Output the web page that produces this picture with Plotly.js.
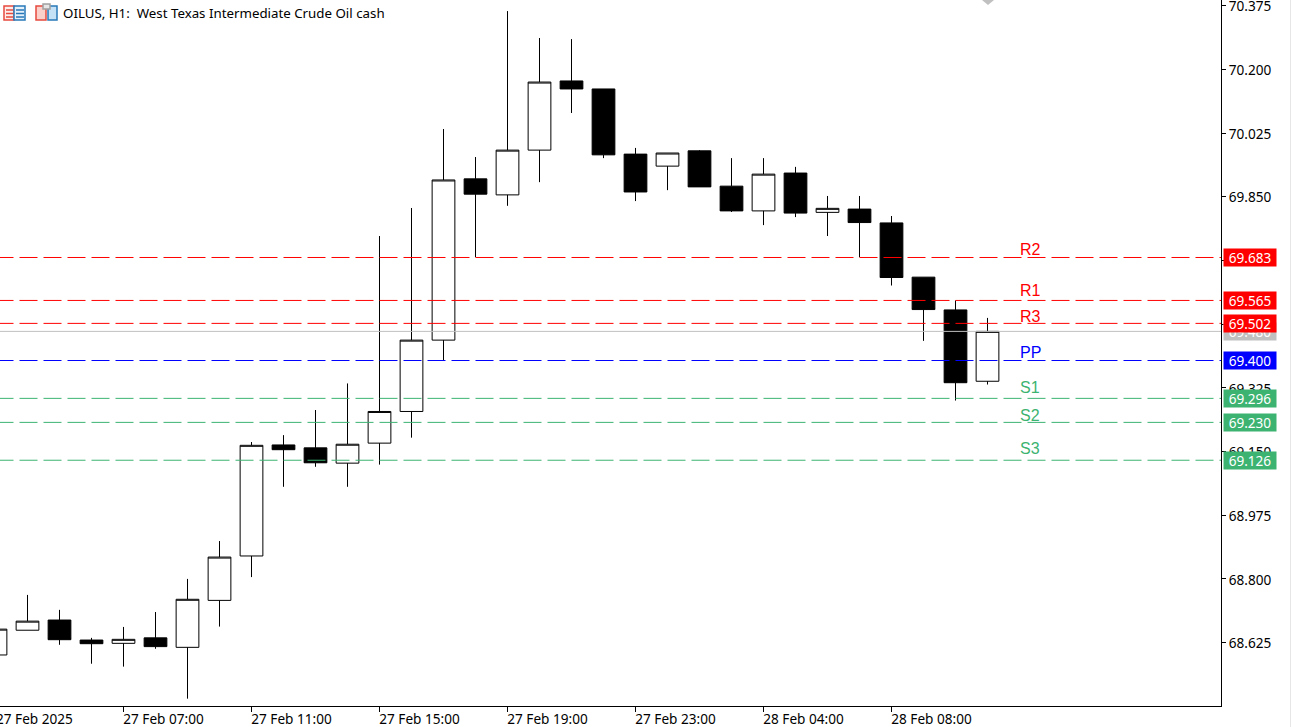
<!DOCTYPE html>
<html>
<head>
<meta charset="utf-8">
<script src="https://cdn.plot.ly/plotly-3.0.1.min.js"></script>
<style>html,body{margin:0;padding:0;background:#fff;overflow:hidden}#chart{width:1291px;height:727px}</style>
</head>
<body>
<div id="chart"></div>
<script>
const barTimes = ["27 Feb 03:00","27 Feb 04:00","27 Feb 05:00","27 Feb 06:00","27 Feb 07:00","27 Feb 08:00","27 Feb 09:00","27 Feb 10:00","27 Feb 11:00","27 Feb 12:00","27 Feb 13:00","27 Feb 14:00","27 Feb 15:00","27 Feb 16:00","27 Feb 17:00","27 Feb 18:00","27 Feb 19:00","27 Feb 20:00","27 Feb 21:00","27 Feb 22:00","27 Feb 23:00","28 Feb 01:00","28 Feb 02:00","28 Feb 03:00","28 Feb 04:00","28 Feb 05:00","28 Feb 06:00","28 Feb 07:00","28 Feb 08:00","28 Feb 09:00","28 Feb 10:00","28 Feb 11:00"];
const opens  = [68.591,68.659,68.687,68.632,68.623,68.638,68.612,68.741,68.863,69.168,69.160,69.118,69.173,69.260,69.456,69.899,69.855,69.978,70.168,70.146,69.967,69.934,69.976,69.879,69.811,69.915,69.807,69.816,69.778,69.629,69.539,69.343];
const highs  = [68.662,68.756,68.715,68.638,68.668,68.709,68.800,68.904,69.176,69.195,69.264,69.337,69.742,69.819,70.036,69.959,70.360,70.286,70.283,70.146,69.984,69.970,69.978,69.956,69.956,69.932,69.852,69.852,69.797,69.629,69.565,69.517];
const lows   = [68.591,68.659,68.619,68.567,68.559,68.608,68.471,68.669,68.805,69.053,69.108,69.053,69.114,69.188,69.401,69.684,69.825,69.890,70.080,69.956,69.838,69.868,69.877,69.808,69.772,69.794,69.742,69.684,69.606,69.454,69.290,69.334];
const closes = [68.662,68.684,68.633,68.622,68.634,68.614,68.744,68.860,69.167,69.155,69.119,69.170,69.260,69.456,69.896,69.857,69.978,70.165,70.146,69.965,69.863,69.970,69.877,69.811,69.912,69.805,69.818,69.779,69.628,69.540,69.339,69.480];

const levelNames  = ["R2","R1","R3","PP","S1","S2","S3"];
const levelValues = [69.683,69.565,69.502,69.400,69.296,69.230,69.126];
const levelTextAt = [69.705,69.591,69.521,69.422,69.327,69.249,69.157];
const levelColors = ["#ff0000","#ff0000","#ff0000","#0000ff","#3cb371","#3cb371","#3cb371"];
const bidValue = 69.480;

const yTicks = [70.375,70.200,70.025,69.850,69.675,69.500,69.325,69.150,68.975,68.800,68.625];
const xTickBars = [4,8,12,16,20,24,28];
const xTickLabels = ["27 Feb 07:00","27 Feb 11:00","27 Feb 15:00","27 Feb 19:00","27 Feb 23:00","28 Feb 04:00","28 Feb 08:00"];
const firstDateLabel = "27 Feb 2025";
const chartTitle = "OILUS, H1:\u00a0 West Texas Intermediate Crude Oil cash";

const uiFont = "Noto Sans, sans-serif";
const W = 1291, H = 727, PW = 1221, PH = 706;
const px = v => v / PW, py = v => 1 - v / PH;
const box = (x0,y0,x1,y1,line,fill) => ({type:'rect',xref:'paper',yref:'paper',x0:px(x0),x1:px(x1),y0:py(y0),y1:py(y1),layer:'above',line:{color:line,width:1.5},fillcolor:fill||'rgba(0,0,0,0)'});
const rule = (x0,x1,y,c) => ({type:'line',xref:'paper',yref:'paper',x0:px(x0),x1:px(x1),y0:py(y),y1:py(y),layer:'above',line:{color:c,width:1.5}});

const shapes = [
  {type:'line',xref:'paper',yref:'y',x0:0,x1:1,y0:bidValue,y1:bidValue,layer:'above',line:{color:'#c0c0c0',width:1}},
  ...levelValues.map((v,i)=>({type:'line',xref:'x',yref:'y',x0:0,x1:45,y0:v,y1:v,layer:'above',line:{color:levelColors[i],width:1,dash:'18px,6px'}})),
  // toolbar icons in the header
  box(4,6,14,20,'#e64a3f','#fdeeec'), box(14,6,25,20,'#2878b8','#e4f0fa'),
  rule(6,13,10,'#e64a3f'),rule(6,13,13.5,'#e64a3f'),rule(6,13,17,'#e64a3f'),
  rule(16,24,10,'#2878b8'),rule(16,24,13.5,'#2878b8'),rule(16,24,17,'#2878b8'),
  box(36,6,46,20,'#e64a3f','#fbd0cb'), box(48,6,57,20,'#2878b8','#c4e1f6'),
  box(43,4,50,9,'#a0a0a0','#e6e6e6'),
  // shift marker at the top edge and window edge
  {type:'path',xref:'paper',yref:'paper',path:`M${px(982)},${py(0)} L${px(994)},${py(0)} L${px(988)},${py(5)} Z`,layer:'above',fillcolor:'#c0c0c0',line:{width:0}},
  {type:'rect',xref:'paper',yref:'paper',x0:px(1290),x1:px(1291),y0:py(727),y1:py(0),layer:'above',fillcolor:'#e6e6e6',line:{width:0}}
];

const tag = (v,bg) => ({xref:'paper',yref:'y',x:1,xshift:2,xanchor:'left',y:v,yanchor:'middle',width:52,height:17,borderpad:0,align:'center',valign:'middle',
  text:v.toFixed(3),showarrow:false,bgcolor:bg,font:{family:uiFont,size:13.6,color:'#ffffff'}});

const annotations = [
  tag(bidValue,'#c0c0c0'),
  ...levelValues.map((v,i)=>tag(v,levelColors[i])),
  ...levelNames.map((n,i)=>({xref:'x',yref:'y',x:32,xshift:-1,y:levelTextAt[i],xanchor:'left',yanchor:'middle',text:n,showarrow:false,borderpad:0,
    font:{family:'Liberation Sans, Arial, sans-serif',size:16,color:levelColors[i]}})),
  {xref:'paper',yref:'paper',x:0,xshift:-5,xanchor:'left',y:0,yanchor:'top',yshift:-2,text:firstDateLabel,showarrow:false,borderpad:0,font:{family:uiFont,size:13.6,color:'#000'}}
];

Plotly.newPlot('chart',[{
  type:'candlestick',
  x:barTimes.map((_,i)=>i),
  text:barTimes,
  open:opens,high:highs,low:lows,close:closes,
  whiskerwidth:0,
  increasing:{line:{color:'#000000',width:1},fillcolor:'#ffffff'},
  decreasing:{line:{color:'#000000',width:1},fillcolor:'#000000'},
  showlegend:false
}],{
  width:W,height:H,
  margin:{l:0,r:W-PW,t:0,b:H-PH,pad:0},
  paper_bgcolor:'#ffffff',plot_bgcolor:'#ffffff',
  showlegend:false,
  boxgap:0.29,boxgroupgap:0,
  title:{text:chartTitle,xref:'container',yref:'container',x:63/W,xanchor:'left',y:1-13/H,yanchor:'middle',pad:{l:0,r:0,t:0,b:0},font:{family:uiFont,size:13.3,color:'#000000'}},
  xaxis:{type:'linear',range:[4.5/32,(PW+4.5)/32],rangeslider:{visible:false},showgrid:false,zeroline:false,showline:true,linecolor:'#000',linewidth:1,
    ticks:'outside',ticklen:5,tickwidth:1,tickcolor:'#000',tickmode:'array',tickvals:xTickBars,ticktext:xTickLabels,tickangle:0,ticklabelshift:40,ticklabelstandoff:-4,ticklabeloverflow:'allow',
    tickfont:{family:uiFont,size:13.6,color:'#000'}},
  yaxis:{side:'right',range:[70.3904-PH/364,70.3904],showgrid:false,zeroline:false,showline:true,linecolor:'#000',linewidth:1,
    ticks:'outside',ticklen:4,tickwidth:1,tickcolor:'#000',tickmode:'array',tickvals:yTicks,tickformat:'.3f',ticklabeloverflow:'allow',ticklabelshift:1,
    tickfont:{family:uiFont,size:13.6,color:'#000'}},
  shapes:shapes,annotations:annotations,hovermode:false
},{displayModeBar:false,staticPlot:true});
</script>
</body>
</html>
